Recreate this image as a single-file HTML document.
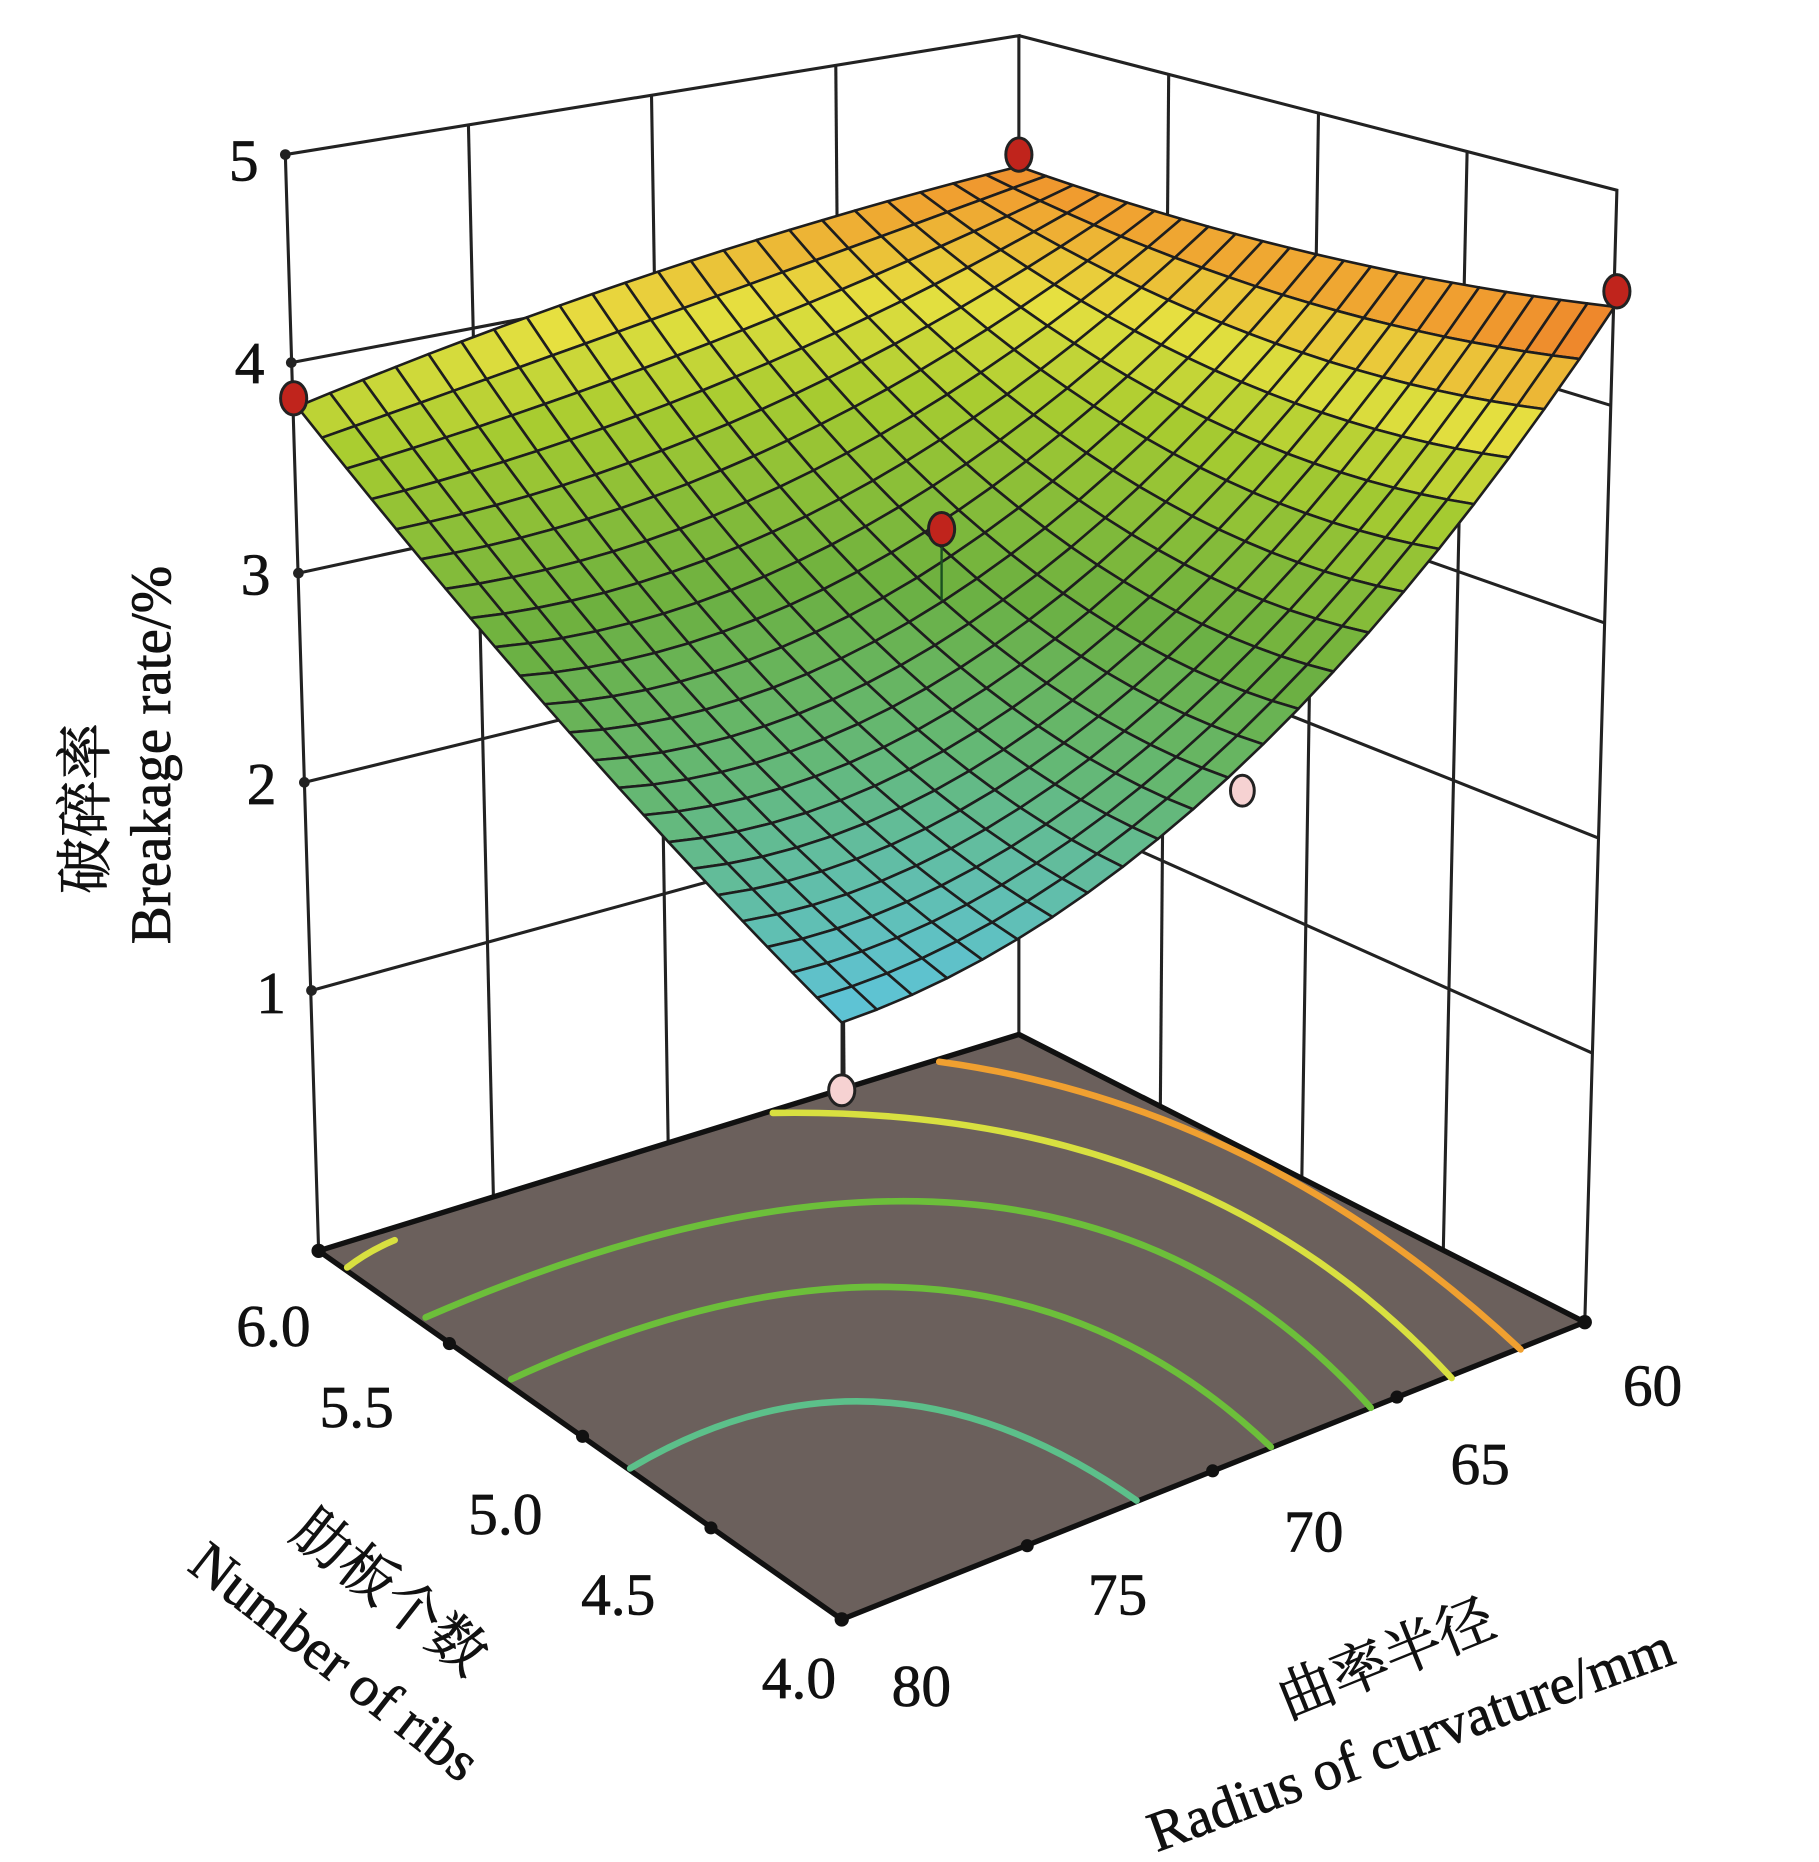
<!DOCTYPE html>
<html><head><meta charset="utf-8">
<style>
html,body{margin:0;padding:0;background:#fff;}
svg{display:block;}
text{font-family:"Liberation Serif","Times New Roman",Times,serif;fill:#111;}
text.cjk{font-family:"Noto Serif CJK SC","Noto Sans CJK SC",serif;}
</style></head>
<body>
<svg id="s" width="1819" height="1862" viewBox="0 0 1530 1566" preserveAspectRatio="none" xmlns="http://www.w3.org/2000/svg">
<rect width="1530" height="1566" fill="#fff"/>
<g stroke="#222" stroke-width="2.6" fill="none">
<polyline points="268,1052 240,130 857,30 857,870"/>
<line x1="245" y1="305" x2="857" y2="189"/>
<line x1="251" y1="482" x2="857" y2="351"/>
<line x1="256" y1="658" x2="857" y2="511"/>
<line x1="262" y1="833" x2="857" y2="670"/>
<line x1="394" y1="105" x2="415" y2="1006"/>
<line x1="548" y1="80" x2="562" y2="961"/>
<line x1="703" y1="55" x2="710" y2="915"/>
<polyline points="857,30 1360,160 1333,1112"/>
<line x1="857" y1="189" x2="1355" y2="341"/>
<line x1="857" y1="351" x2="1350" y2="524"/>
<line x1="857" y1="511" x2="1345" y2="705"/>
<line x1="857" y1="670" x2="1340" y2="886"/>
<line x1="983" y1="63" x2="976" y2="930"/>
<line x1="1109" y1="95" x2="1095" y2="991"/>
<line x1="1234" y1="128" x2="1214" y2="1051"/>
</g>
<g fill="#222">
<circle cx="240" cy="130" r="4.5"/><circle cx="245" cy="305" r="4.5"/><circle cx="251" cy="482" r="4.5"/><circle cx="256" cy="658" r="4.5"/><circle cx="262" cy="833" r="4.5"/>
</g>
<polygon points="857,870 268,1052 708,1362 1333,1112" fill="#6b605c" stroke="#111" stroke-width="4.5" stroke-linejoin="round"/>
<g fill="none" stroke-width="5.5" stroke-linecap="round">
<path d="M292,1066 Q310,1052 332,1043" stroke="#d8e040"/>
<path d="M790,893 Q1060,930 1279,1135" stroke="#f0a030"/>
<path d="M650,936 Q1010,930 1221,1159" stroke="#d8e040"/>
<path d="M358,1108 Q880,880 1153,1184" stroke="#6cbf3a"/>
<path d="M430,1160 Q820,980 1069,1217" stroke="#6cbf3a"/>
<path d="M530,1235 Q740,1110 956,1262" stroke="#5cc08a"/>
</g>
<g fill="#111">
<circle cx="268" cy="1052" r="6"/><circle cx="378" cy="1130" r="5.5"/><circle cx="490" cy="1208" r="5.5"/><circle cx="598" cy="1285" r="5.5"/><circle cx="708" cy="1362" r="6"/>
<circle cx="1333" cy="1112" r="6"/><circle cx="1175" cy="1175" r="5.5"/><circle cx="1020" cy="1237" r="5.5"/><circle cx="864" cy="1300" r="5.5"/>
</g>
<line x1="708" y1="860" x2="708" y2="905" stroke="#222" stroke-width="2"/>
<g id="surf"></g>
<line x1="792" y1="455" x2="792" y2="505" stroke="#1a5020" stroke-width="2"/>
<g stroke="#222" stroke-width="2.5">
<ellipse cx="247" cy="335" rx="11" ry="14" fill="#c0241c"/>
<ellipse cx="857" cy="130" rx="11" ry="14" fill="#c0241c"/>
<ellipse cx="1360" cy="245" rx="11" ry="14" fill="#c0241c"/>
<ellipse cx="792" cy="445" rx="11" ry="14" fill="#c0241c"/>
<ellipse cx="708" cy="917" rx="11" ry="13" fill="#f6d2d2"/>
<ellipse cx="1045" cy="665" rx="10" ry="13" fill="#f6d2d2"/>
</g>
<g font-size="50" text-anchor="middle" stroke="#111" stroke-width="0.6">
<text x="205" y="152">5</text><text x="210" y="322">4</text><text x="215" y="500">3</text><text x="220" y="676">2</text><text x="228" y="852">1</text>
<text x="230" y="1132">6.0</text><text x="300" y="1200">5.5</text><text x="425" y="1290">5.0</text><text x="520" y="1358">4.5</text><text x="672" y="1428">4.0</text>
<text x="1390" y="1182">60</text><text x="1245" y="1248">65</text><text x="1105" y="1305">70</text><text x="940" y="1358">75</text><text x="775" y="1435">80</text>
</g>
<g font-size="48" text-anchor="middle" stroke="#111" stroke-width="0.6">
<text class="cjk" transform="translate(88,680) rotate(-90)">破碎率</text>
<text transform="translate(143,635) rotate(-90)">Breakage rate/%</text>
<text class="cjk" transform="translate(318,1352) rotate(38)">肋板个数</text>
<text transform="translate(272,1410) rotate(38)">Number of ribs</text>
<text class="cjk" transform="translate(1172,1410) rotate(-22)">曲率半径</text>
<text transform="translate(1192,1478) rotate(-20)">Radius of curvature/mm</text>
</g>
</svg>
<script>
(function(){
var N=22;
function bl(B,L,R,Fr,s,t){return (1-s)*(1-t)*B+(1-s)*t*L+s*(1-t)*R+s*t*Fr;}
function F(s,t){return [bl(857,268,1333,708,s,t),bl(870,1052,1112,1362,s,t)];}
function P(s,t){
 var x=bl(857,250,1358,708,s,t), y=bl(140,342,258,860,s,t);
 y+=60*s*(1-s)+380*s*t*(1-t)+790*s*(1-s)*t*(1-t)-50*(1-s)*t*(1-t);
 return [x,y];
}
function K(s,t){return bl(160,176,182,198,s,t);}
function Z(s,t){return (F(s,t)[1]-P(s,t)[1])/K(s,t)-0.25;}
var stops=[[2.3,[94,195,214]],[2.7,[100,184,120]],[3.1,[108,176,64]],[3.65,[168,204,48]],[3.95,[230,224,64]],[4.25,[240,160,48]],[4.55,[232,74,32]]];
function col(z){
 if(z<=stops[0][0])return stops[0][1];
 for(var i=1;i<stops.length;i++){if(z<=stops[i][0]){var a=stops[i-1],b=stops[i],f=(z-a[0])/(b[0]-a[0]);
  return [0,1,2].map(function(k){return Math.round(a[1][k]+(b[1][k]-a[1][k])*f);});}}
 return stops[stops.length-1][1];
}
var cells=[];
for(var i=0;i<N;i++)for(var j=0;j<N;j++)cells.push([i,j]);
cells.sort(function(a,b){return (a[0]+a[1])-(b[0]+b[1]);});
var out='';
cells.forEach(function(c){
 var s0=c[0]/N,s1=(c[0]+1)/N,t0=c[1]/N,t1=(c[1]+1)/N;
 var p=[P(s0,t0),P(s1,t0),P(s1,t1),P(s0,t1)];
 var cl=col(Z((s0+s1)/2,(t0+t1)/2));
 out+='<polygon points="'+p.map(function(q){return q[0].toFixed(1)+','+q[1].toFixed(1);}).join(' ')+'" fill="rgb('+cl.join(',')+')" stroke="#1e1e1e" stroke-width="2.2" stroke-linejoin="round"/>';
});
document.getElementById('surf').innerHTML=out;
})();
</script>
</body></html>
